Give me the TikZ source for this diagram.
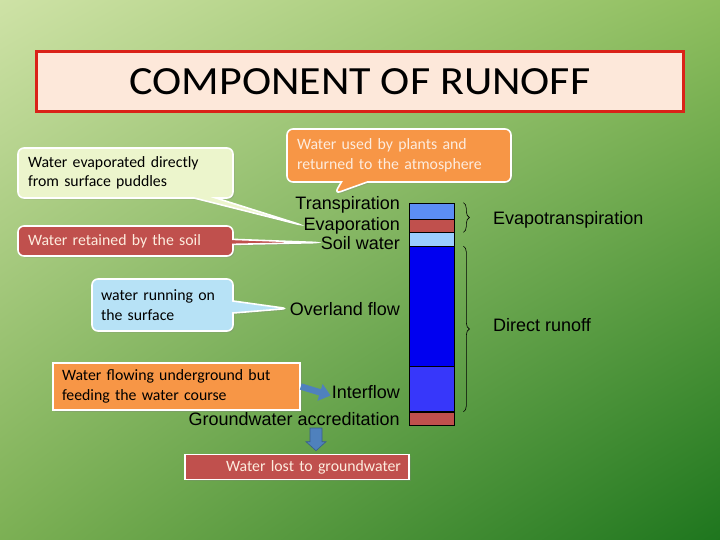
\documentclass[tikz,border=0pt]{standalone}
\usepackage{fontspec}
\setmainfont{Carlito}
\newfontfamily\arialfont{Liberation Sans}
\usetikzlibrary{shapes.callouts,decorations.pathreplacing,shadows,shadings,arrows.meta}
\definecolor{bgTL}{RGB}{206,226,166}
\definecolor{bgTR}{RGB}{142,190,94}
\definecolor{bgBL}{RGB}{124,176,84}
\definecolor{bgBR}{RGB}{30,118,30}
\definecolor{titlered}{RGB}{218,34,24}
\definecolor{titlefill}{RGB}{253,232,218}
\definecolor{calgreen}{RGB}{236,245,204}
\definecolor{calred}{RGB}{192,80,77}
\definecolor{calblue}{RGB}{183,226,246}
\definecolor{calorange}{RGB}{247,150,70}
\definecolor{txtlight}{RGB}{253,236,222}
\definecolor{segA}{RGB}{92,142,245}
\definecolor{segB}{RGB}{192,80,77}
\definecolor{segC}{RGB}{155,205,255}
\definecolor{segD}{RGB}{0,0,240}
\definecolor{segE}{RGB}{55,55,250}
\definecolor{arrowblue}{RGB}{79,129,189}
\definecolor{arrowedge}{RGB}{56,93,138}
\tikzset{
  lbl/.style={font=\arialfont\fontsize{18}{20}\selectfont, inner sep=0pt},
  seg/.style={draw=black, line width=0.7pt, minimum width=45pt, inner sep=0pt},
  callbox/.style={font=\fontsize{15.8}{19.5}\selectfont, align=left, inner xsep=10pt, inner ysep=0pt,
     draw=white, line width=1.6pt,
     drop shadow={opacity=0.3, shadow xshift=1.5pt, shadow yshift=-1.5pt}},
  cal/.style={callbox, rectangle callout, rounded corners=6pt},
  brc/.style={decorate, decoration={brace, amplitude=6pt}, line width=0.6pt}
}
\begin{document}
\begin{tikzpicture}[x=1pt,y=-1pt]
\useasboundingbox (0,0) rectangle (720,540);
\shade[upper left=bgTL, upper right=bgTR, lower left=bgBL, lower right=bgBR] (0,0) rectangle (720,540);

% title
\node[draw=titlered, line width=3pt, fill=titlefill, minimum width=647pt, minimum height=60pt,
      font=\fontsize{40}{46}\selectfont,
      drop shadow={opacity=0.25, shadow xshift=1.5pt, shadow yshift=-1.5pt}] (title) at (360,82) {\scalebox{1.1}[1]{COMPONENT OF RUNOFF}};

% column
\node[seg, fill=segA, minimum height=16pt] (s1) at (431.5,211) {};
\node[seg, fill=segB, minimum height=13pt] (s2) at (431.5,225.5) {};
\node[seg, fill=segC, minimum height=14pt] (s3) at (431.5,239.5) {};
\node[seg, fill=segD, minimum height=120pt] (s4) at (431.5,306.5) {};
\node[seg, fill=segE, minimum height=45pt] (s5) at (431.5,389) {};
\node[seg, fill=segB, minimum height=13pt] (s6) at (431.5,418.5) {};

% labels
\node[lbl, anchor=base east] (transp) at (400,210) {Transpiration};
\node[lbl, anchor=base east] (evap) at (400,230) {Evaporation};
\node[lbl, anchor=base east] (soil) at (400,249) {Soil water};
\node[lbl, anchor=base east] (overland) at (400,315) {Overland flow};
\node[lbl, anchor=base east] (inter) at (400,398) {Interflow};
\node[lbl, anchor=base east] (gw) at (400,425) {Groundwater accreditation};
\node[lbl, anchor=base west] (evapot) at (493,225) {Evapotranspiration};
\node[lbl, anchor=base west] (direct) at (493,331) {Direct runoff};

% braces
\draw[brc] ([xshift=9pt]s1.north east) -- ([xshift=9pt]s2.south east);
\draw[brc] ([xshift=9pt]s4.north east) -- ([xshift=9pt]s5.south east);

% callouts
\node[cal, fill=calgreen, minimum width=215pt, minimum height=50pt, text width=195pt,
      callout absolute pointer={([xshift=-1pt]evap.west)}, callout pointer width=22pt] (c1) at (125.5,173) {Water evaporated directly\\from surface puddles};
\node[cal, fill=calred, text=txtlight, minimum width=215pt, minimum height=30pt, text width=195pt,
      callout absolute pointer={([xshift=-1pt]soil.west)}, callout pointer width=5pt] (c2) at (125.5,241) {Water retained by the soil};
\node[cal, fill=calblue, minimum width=141pt, minimum height=52pt, text width=123pt, inner xsep=9pt,
      callout absolute pointer={([xshift=-2pt]overland.west)}, callout pointer width=12pt] (c3) at (162.5,305) {water running on\\the surface};
\node[cal, fill=calorange, text=txtlight, minimum width=224pt, minimum height=53pt, text width=204pt,
      callout absolute pointer={([xshift=-13pt,yshift=3pt]transp.north)}, callout pointer width=26pt] (c4) at (399,155.5) {Water used by plants and\\returned to the atmosphere};
\node[callbox, fill=calorange, minimum width=247pt, minimum height=47pt, text width=229pt, inner xsep=9pt] (c5) at (176.5,386.5) {Water flowing underground but\\feeding the water course};
\node[callbox, fill=calred, text=txtlight, align=right, minimum width=224pt, minimum height=25pt, text width=208pt, inner xsep=8pt] (c6) at (297,467) {Water lost to groundwater};

% arrows
\draw[arrowblue, line width=6.5pt, -{Triangle[length=11pt,width=17pt]}] (c5.east) -- ([xshift=-1pt,yshift=-4pt]inter.west);
\coordinate (ga) at (316,428);
\coordinate (gb) at (ga |- c6.north);
\fill[arrowblue, draw=arrowedge, line width=0.6pt]
  ([xshift=-6pt]ga) -- ([xshift=6pt]ga) -- ([xshift=6pt,yshift=12pt]gb) -- ([xshift=10pt,yshift=12pt]gb)
  -- ([yshift=3pt]gb) -- ([xshift=-10pt,yshift=12pt]gb) -- ([xshift=-6pt,yshift=12pt]gb) -- cycle;
\end{tikzpicture}
\end{document}
